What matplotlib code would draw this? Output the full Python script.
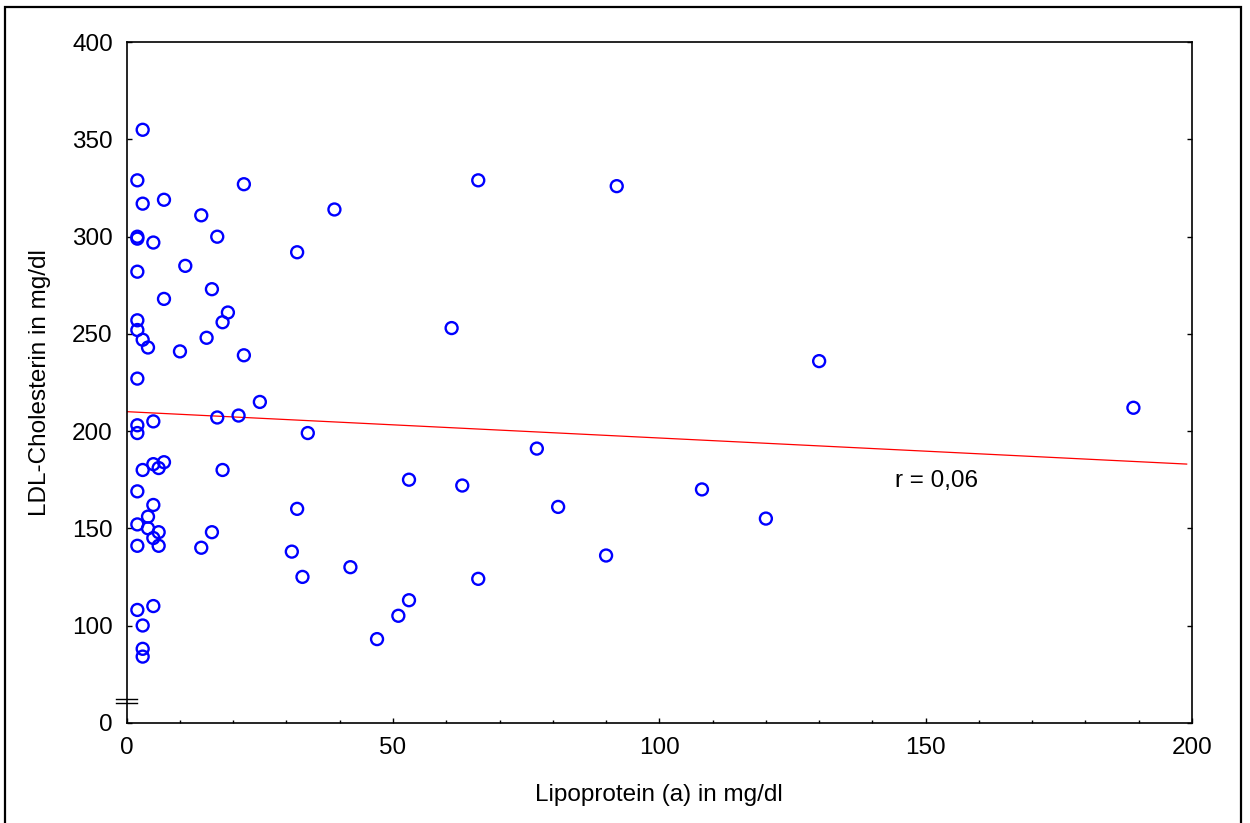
import matplotlib
matplotlib.use("Agg")
import matplotlib.pyplot as plt
from matplotlib.patches import Rectangle
from matplotlib.ticker import MultipleLocator
import matplotlib.transforms as mtransforms

plt.rcParams['font.family'] = ['Liberation Sans', 'DejaVu Sans']

# Lipoprotein (a) [mg/dl] and LDL-Cholesterin [mg/dl] per patient
lpa = [3, 2, 22, 3, 7, 14, 2, 2, 5, 17, 2, 11, 16, 7, 2, 2, 19, 18, 3, 4,
       15, 10, 22, 2, 25, 21, 17, 5, 2, 2, 7, 5, 6, 3, 18, 2, 5, 4, 2, 4,
       6, 16, 5, 2, 6, 14, 5, 2, 3, 3, 3,
       32, 39, 66, 92, 61, 130, 189, 34, 77, 53, 63, 81, 108, 120, 32, 31,
       90, 33, 42, 66, 53, 51, 47]
ldl = [355, 329, 327, 317, 319, 311, 300, 299, 297, 300, 282, 285, 273, 268,
       257, 252, 261, 256, 247, 243, 248, 241, 239, 227, 215, 208, 207, 205,
       203, 199, 184, 183, 181, 180, 180, 169, 162, 156, 152, 150, 148, 148,
       145, 141, 141, 140, 110, 108, 100, 88, 84,
       292, 314, 329, 326, 253, 236, 212, 199, 191, 175, 172, 161, 170, 155,
       160, 138, 136, 125, 130, 124, 113, 105, 93]

# Linear regression line
fit_intercept = 210.0
fit_slope = -0.1355
fit_x = [0, 199]
r_text = "r = 0,06"

x_ticks = [0, 50, 100, 150, 200]
x_tick_labels = ["0", "50", "100", "150", "200"]
# y axis is broken: the bottom edge stands for 0
y_ticks = [50, 100, 150, 200, 250, 300, 350, 400]
y_tick_labels = ["0", "100", "150", "200", "250", "300", "350", "400"]

W, H = 1250, 823
fig = plt.figure(figsize=(W / 100, H / 100), dpi=100)
ax = fig.add_axes([126.7 / W, 1 - 722.7 / H, (1192 - 126.7) / W, (722.7 - 42.3) / H])

ax.scatter(lpa, ldl, s=8.6 ** 2, facecolors='none', edgecolors='#0000ff',
           linewidths=1.7, zorder=3, clip_on=False)

fit_y = [fit_intercept + fit_slope * x for x in fit_x]
ax.plot(fit_x, fit_y, color='#ff0000', linewidth=0.9, zorder=2)

ax.text(144.2, 174.4, r_text, fontsize=17.5, ha='left', va='center')

ax.set_xlim(0, 200)
ax.set_ylim(50, 400)
ax.set_xticks(x_ticks)
ax.set_xticklabels(x_tick_labels)
ax.set_yticks(y_ticks)
ax.set_yticklabels(y_tick_labels)
ax.xaxis.set_minor_locator(MultipleLocator(10))

ax.tick_params(axis='both', which='major', direction='in', length=3.5,
               width=1.0, labelsize=17.5, color='black')
ax.tick_params(axis='x', which='major', pad=10)
ax.tick_params(axis='y', which='major', pad=10, right=True)
ax.tick_params(axis='x', which='minor', direction='in', length=2, width=1.0)

for sp in ax.spines.values():
    sp.set_linewidth(1.2)
    sp.set_color('black')

# axis break marks on the y axis
trans = mtransforms.blended_transform_factory(ax.transAxes, ax.transData)
for yb in (62.3, 60.1):
    ax.plot([-0.010, 0.0097], [yb, yb], color='black', linewidth=1.0,
            transform=trans, clip_on=False)

fig.text(659 / W, 1 - 795 / H, "Lipoprotein (a) in mg/dl", fontsize=17.5,
         ha='center', va='center')
fig.text(40 / W, 1 - 383 / H, "LDL-Cholesterin in mg/dl", fontsize=17.5,
         ha='center', va='center', rotation=90)

# outer frame around the whole graphic
fig.add_artist(Rectangle((5 / W, -0.02), (1241 - 5) / W, 1 - 7 / H + 0.02,
                         transform=fig.transFigure, fill=False,
                         edgecolor='black', linewidth=1.6))

fig.savefig("out.png", dpi=100)
